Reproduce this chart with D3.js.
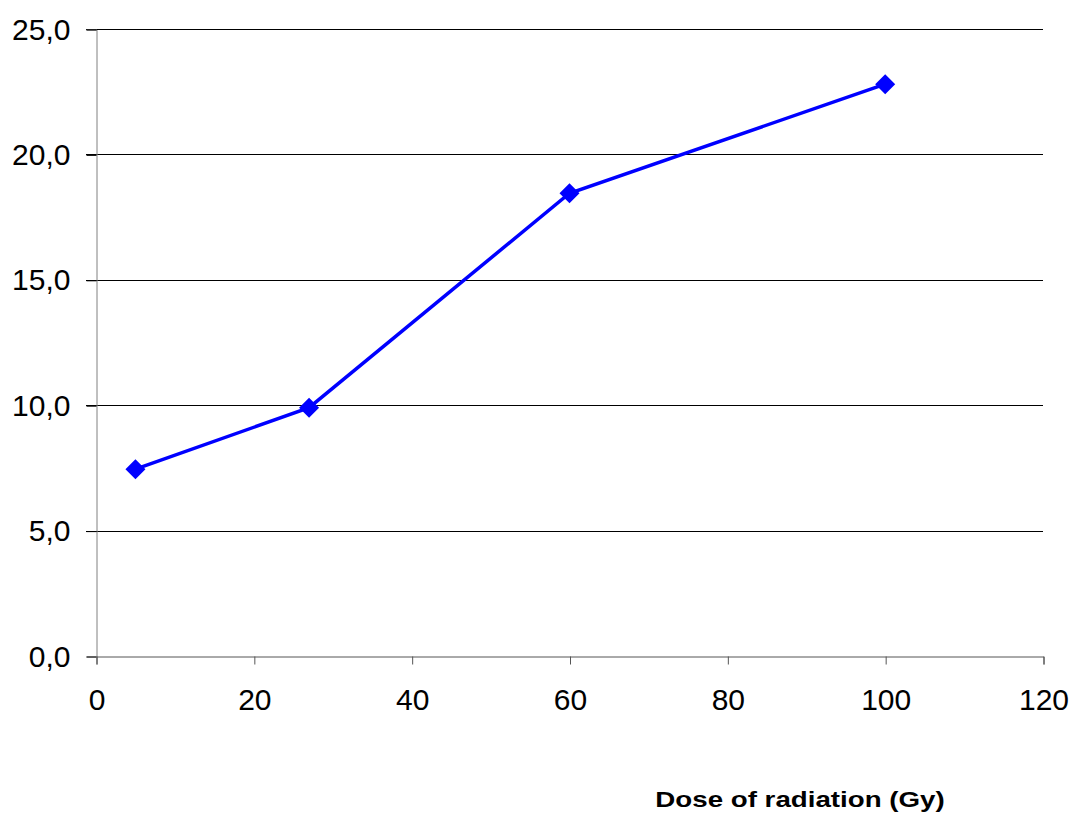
<!DOCTYPE html>
<html>
<head>
<meta charset="utf-8">
<script src="https://cdn.jsdelivr.net/npm/d3@7"></script>
<style>
  body { margin: 0; background: #fff; }
  svg text { font-family: "Liberation Sans", Arial, sans-serif; }
</style>
</head>
<body>
<script>
'use strict';

// dose values (Gy) and measured response
const doses = [5, 27, 60, 100];
const values = [7.45, 9.9, 18.45, 22.8];
const xTicks = [0, 20, 40, 60, 80, 100, 120];
const yTicks = [0, 5, 10, 15, 20, 25];
const xTitle = "Dose of radiation (Gy)";

(function() {
  const svg = d3.select('body').append('svg')
    .attr('width', 1072)
    .attr('height', 815);

  const xScale = d3.scaleLinear().domain([0, 120]).range([96, 1043]);
  const yScale = d3.scaleLinear().domain([0, 25]).range([656, 29]);

  // horizontal gridlines (with left tick stubs)
  svg.append('g')
    .selectAll('line')
    .data(yTicks.filter(d => d > 0))
    .enter()
    .append('line')
      .attr('x1', 86)
      .attr('x2', xScale(120))
      .attr('y1', d => Math.round(yScale(d)) + 0.5)
      .attr('y2', d => Math.round(yScale(d)) + 0.5)
      .attr('stroke', '#000')
      .attr('stroke-width', 1);

  // y axis
  const yAxis = d3.axisLeft(yScale)
    .tickValues(yTicks)
    .tickSize(10)
    .tickPadding(16)
    .tickFormat(d => d3.format('.1f')(d).replace('.', ','));
  const gy = svg.append('g')
    .attr('transform', 'translate(96.5,0.5)')
    .call(yAxis);
  gy.select('.domain').attr('stroke', '#808080');
  gy.selectAll('.tick line').attr('stroke', '#000');
  gy.selectAll('.tick text')
    .attr('fill', '#000')
    .style('font-size', '30px');

  // x axis
  const xAxis = d3.axisBottom(xScale)
    .tickValues(xTicks)
    .tickSize(8)
    .tickSizeOuter(8)
    .tickPadding(24);
  const gx = svg.append('g')
    .attr('transform', 'translate(0.5,656.5)')
    .call(xAxis);
  gx.select('.domain').attr('stroke', '#555');
  gx.selectAll('.tick line').attr('stroke', '#555');
  gx.selectAll('.tick text')
    .attr('fill', '#000')
    .style('font-size', '30px');

  // data line
  const line = d3.line()
    .x((d, i) => xScale(doses[i]))
    .y(d => yScale(d));
  svg.append('path')
    .datum(values)
    .attr('d', line)
    .attr('fill', 'none')
    .attr('stroke', '#0000ff')
    .attr('stroke-width', 3.5);

  // diamond markers
  const diamond = d3.symbol().type(d3.symbolSquare).size(200);
  svg.append('g')
    .selectAll('path')
    .data(values)
    .enter()
    .append('path')
      .attr('d', diamond)
      .attr('transform', (d, i) => 'translate(' + xScale(doses[i]) + ',' + yScale(d) + ') rotate(45)')
      .attr('fill', '#0000ff');

  // axis title (stretched horizontally like the original)
  svg.append('text')
    .attr('transform', 'translate(800,807) scale(1.26,1)')
    .attr('text-anchor', 'middle')
    .style('font-size', '22px')
    .style('font-weight', 'bold')
    .attr('fill', '#000')
    .text(xTitle);
})();
</script>
</body>
</html>
